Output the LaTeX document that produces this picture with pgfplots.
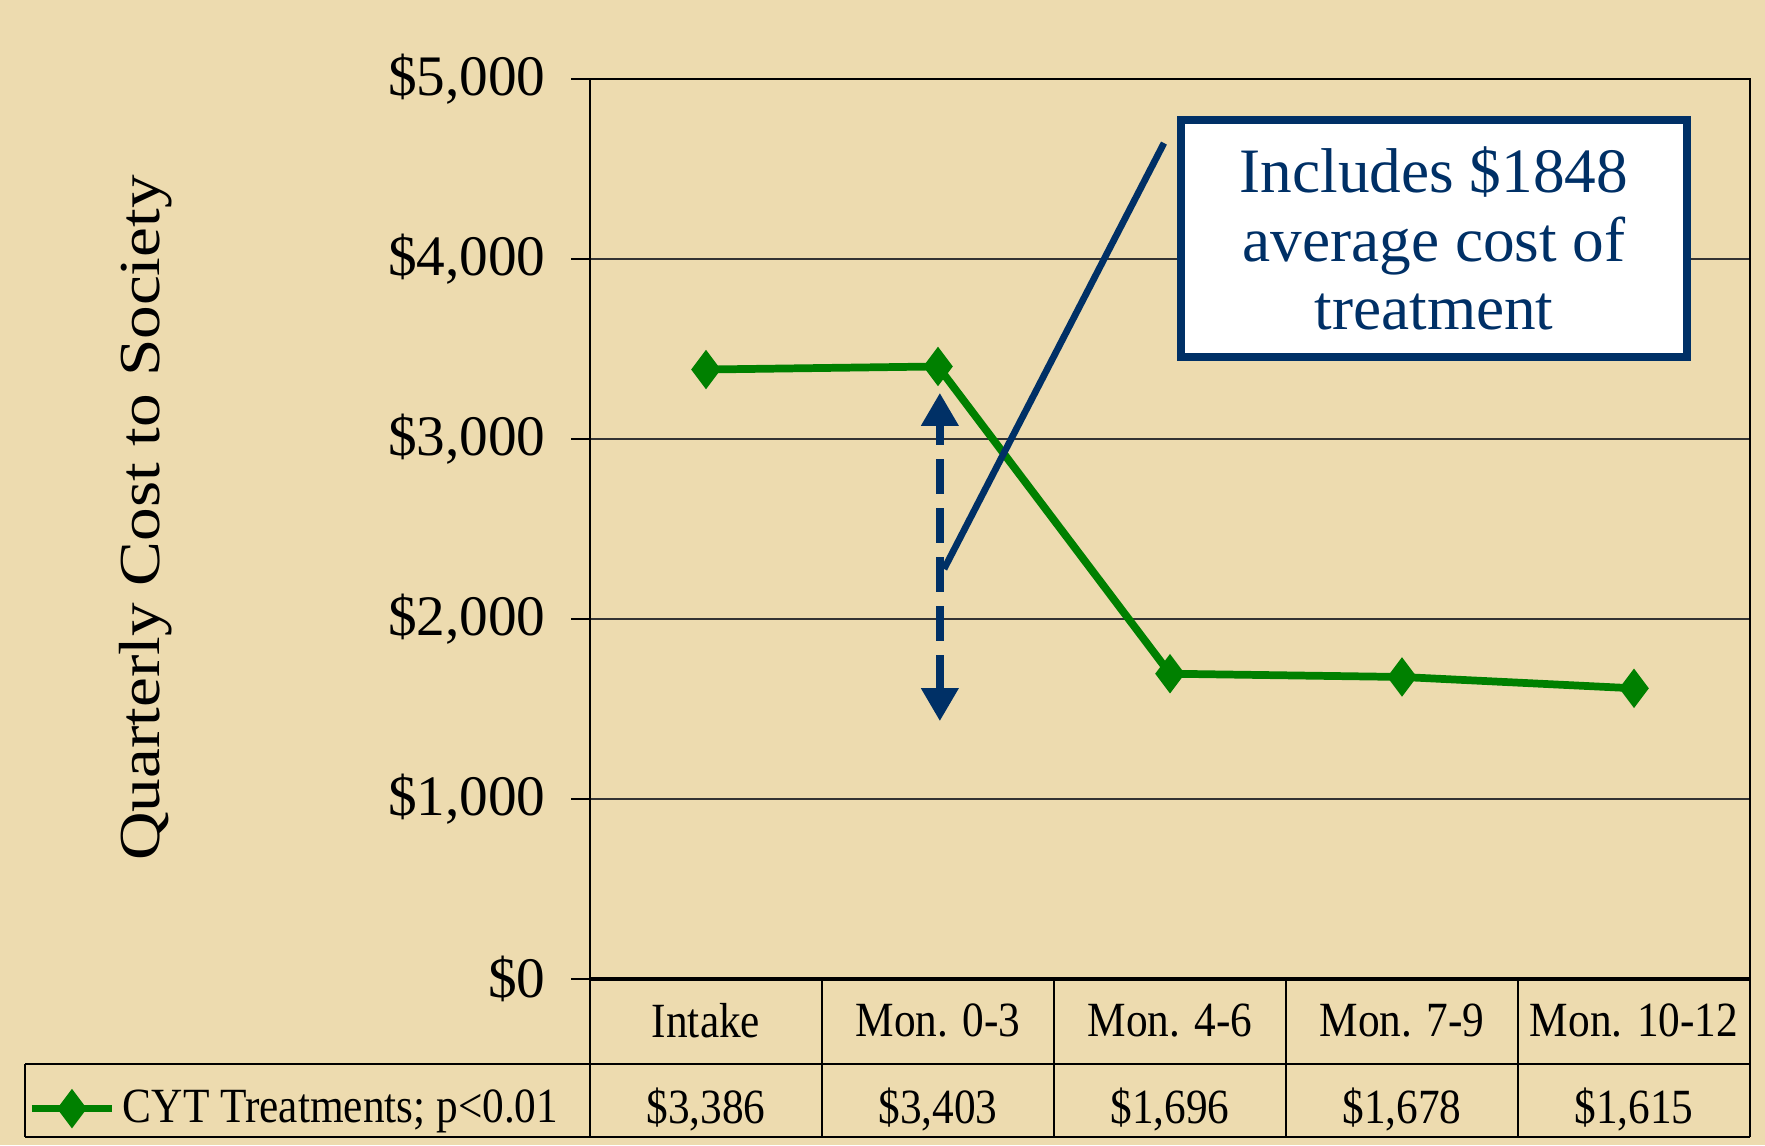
\documentclass[border=0pt]{standalone}
\usepackage{fontspec}
\setmainfont{Liberation Serif}
\newfontfamily\cond[FakeStretch=0.88]{Liberation Serif}
\newfontfamily\wide[FakeStretch=1.16]{Liberation Serif}
\usepackage{pgfplots}
\pgfplotsset{compat=1.18}
\usetikzlibrary{arrows.meta}
\definecolor{bg}{RGB}{237,219,175}
\definecolor{cytgreen}{RGB}{0,128,0}
\definecolor{navy}{RGB}{0,48,102}

\begin{document}
\begin{tikzpicture}
\fill[bg] (0,0) rectangle (176.5mm,114.5mm);
\useasboundingbox (0,0) rectangle (176.5mm,114.5mm);
\begin{axis}[
  at={(59mm,16.6mm)}, anchor=south west,
  scale only axis, width=116mm, height=90mm,
  xmin=-0.5, xmax=4.5, ymin=0, ymax=5000,
  xtick=\empty,
  ytick={0,1000,2000,3000,4000,5000},
  yticklabels={{\$0},{\$1,000},{\$2,000},{\$3,000},{\$4,000},{\$5,000}},
  yticklabel style={font=\fontsize{16.3}{18}\selectfont, anchor=east, xshift=-1.3mm},
  ytick pos=left, tick align=outside, major tick length=1.9mm,
  tick style={black, line width=0.4pt},
  ymajorgrids, grid style={black!80, line width=0.35pt},
  axis line style={black, line width=0.6pt},
  clip=false,
  ylabel={Quarterly Cost to Society},
  ylabel style={at={(axis cs:-2.414,2561)}, anchor=center, font=\wide\fontsize{16.5}{18}\selectfont},
  legend style={at={(axis cs:-2.925,-720)}, anchor=west, draw=none, fill=none, font=\cond\fontsize{14}{16}\selectfont, inner sep=0pt, cells={anchor=west}},
  legend image code/.code={\draw[mark repeat=2, mark phase=2] plot coordinates {(0mm,0mm) (4.0mm,0mm) (8.0mm,0mm)};},
]
% table grid
\draw[black, line width=0.4pt] (axis cs:-2.935,-472) -- (axis cs:4.5,-472);
\draw[black, line width=0.4pt] (axis cs:-2.935,-878) -- (axis cs:4.5,-878);
\draw[black, line width=0.4pt] (axis cs:-2.935,-472) -- (axis cs:-2.935,-878);
\draw[black, line width=0.4pt] (axis cs:-0.5,0) -- (axis cs:-0.5,-878);
\draw[black, line width=0.4pt] (axis cs:0.5,0) -- (axis cs:0.5,-878);
\draw[black, line width=0.4pt] (axis cs:1.5,0) -- (axis cs:1.5,-878);
\draw[black, line width=0.4pt] (axis cs:2.5,0) -- (axis cs:2.5,-878);
\draw[black, line width=0.4pt] (axis cs:3.5,0) -- (axis cs:3.5,-878);
\draw[black, line width=0.4pt] (axis cs:4.5,0) -- (axis cs:4.5,-878);
\draw[black, line width=1.1pt] (axis cs:-0.5,0) -- (axis cs:4.5,0);

% category labels
\addplot[forget plot, draw=none, mark=none, point meta=explicit symbolic,
  nodes near coords, every node near coord/.append style={anchor=center, font=\cond\fontsize{14}{16}\selectfont, inner sep=0pt}]
  coordinates {(0,-233) [Intake] (1,-233) [Mon. 0-3] (2,-233) [Mon. 4-6] (3,-233) [Mon. 7-9] (4,-233) [Mon. 10-12]};
% values
\addplot[forget plot, draw=none, mark=none, point meta=explicit symbolic,
  nodes near coords, every node near coord/.append style={anchor=center, font=\cond\fontsize{14}{16}\selectfont, inner sep=0pt}]
  coordinates {(0,-725) [\$3,386] (1,-725) [\$3,403] (2,-725) [\$1,696] (3,-725) [\$1,678] (4,-725) [\$1,615]};

% main series
\addplot[cytgreen, line width=2.2pt, mark=diamond*, mark size=1.8mm, mark options={solid, line width=0.6pt}]
  coordinates {(0,3386) (1,3403) (2,1696) (3,1678) (4,1615)};
\addlegendentry{CYT Treatments; p<0.01}

% callout line
\addplot[forget plot, navy, line width=1.9pt, mark=none] coordinates {(1.026,2278) (1.974,4644)};
% dashed double arrow
\addplot[forget plot, navy, line width=2.1pt, mark=none, dash pattern=on 3.5mm off 1.4mm,
  {Triangle[width=3.6mm,length=3.3mm]}-{Triangle[width=3.6mm,length=3.3mm]}]
  coordinates {(1.008,1433) (1.008,3256)};

% callout box
\node[draw=navy, line width=0.8mm, fill=white, minimum width=50.6mm, minimum height=23.7mm,
  align=center, text=navy, font=\fontsize{18}{19.4}\selectfont, inner sep=0pt]
  at (axis cs:3.138,4114) {Includes \$1848\\average cost of\\treatment};
\end{axis}
\end{tikzpicture}
\end{document}
